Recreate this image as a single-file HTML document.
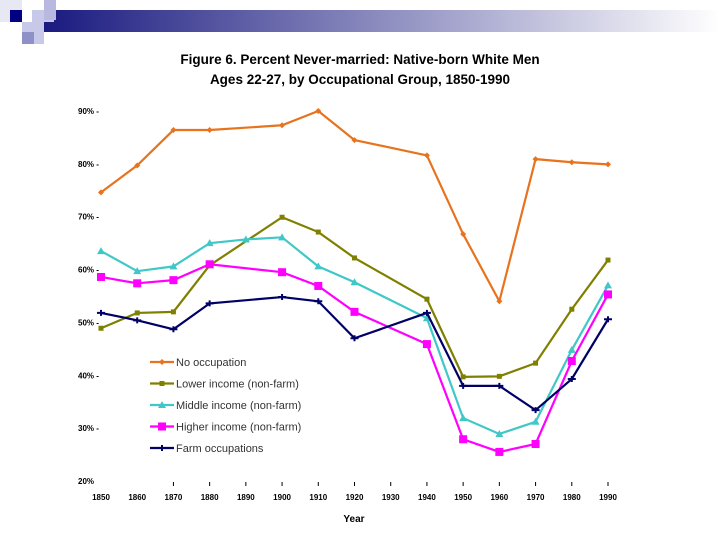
<!DOCTYPE html>
<html><head><meta charset="utf-8"><style>
body{margin:0;background:#fff;width:720px;height:540px;overflow:hidden;font-family:"Liberation Sans",sans-serif}
</style></head><body>
<svg width="720" height="540">
<defs><linearGradient id="bar" x1="0" x2="1"><stop offset="0" stop-color="#1a1a80"/><stop offset="1" stop-color="#ffffff"/></linearGradient></defs>
<g>
<rect x="44" y="10" width="676" height="22" fill="url(#bar)"/>
<rect x="0" y="0" width="22" height="22" fill="#e8e8f4"/>
<rect x="10" y="10" width="12" height="12" fill="#000080"/>
<rect x="32" y="10" width="22" height="12" fill="#c8c8e8"/>
<rect x="44" y="0" width="12" height="20" fill="#b8b8e0"/>
<rect x="22" y="22" width="22" height="22" fill="#c8c8e8"/>
<rect x="22" y="32" width="12" height="12" fill="#9090c8"/>
</g>
<text x="360" y="64" text-anchor="middle" font-size="13.5" font-weight="bold">Figure 6.  Percent Never-married:  Native-born White Men</text>
<text x="360" y="84" text-anchor="middle" font-size="13.5" font-weight="bold">Ages 22-27, by Occupational Group, 1850-1990</text>
<text x="354" y="522" text-anchor="middle" font-size="10" font-weight="bold">Year</text>
<g id="axes"></g><g id="plot"></g><g id="legend"></g>
</svg>
<script>
const years=[1850,1860,1870,1880,1890,1900,1910,1920,1930,1940,1950,1960,1970,1980,1990];
const yTicks=[20,30,40,50,60,70,80,90];
const noOcc=[74.6,79.7,86.4,86.4,null,87.3,90,84.5,null,81.6,66.7,54,80.9,80.3,79.9];
const lowInc=[48.9,51.8,52,60.8,null,69.9,67.1,62.2,null,54.4,39.7,39.8,42.3,52.5,61.8];
const midInc=[63.5,59.7,60.6,65,65.7,66.1,60.6,57.6,null,50.8,31.9,28.9,31.2,44.8,57];
const highInc=[58.6,57.4,58,61,null,59.5,56.9,52,null,45.9,27.9,25.5,27,42.7,55.3];
const farm=[51.8,50.4,48.7,53.6,null,54.8,54,47,null,51.8,38,38,33.4,39.3,50.6];
const seriesNames=["No occupation","Lower income (non-farm)","Middle income (non-farm)","Higher income (non-farm)","Farm occupations"];
const NS="http://www.w3.org/2000/svg";
const X=y=>101+(y-1850)*(608-101)/140;
const Y=v=>481-(v-20)*(481-111)/70;
function mk(t,a,p){const e=document.createElementNS(NS,t);for(const k in a)e.setAttribute(k,a[k]);p.appendChild(e);return e;}
const axes=document.getElementById('axes');
yTicks.forEach(v=>{const t=mk('text',{x:78,y:Y(v)+3,'font-size':8,'font-weight':'bold'},axes);


t.textContent=v+'%'+(v>20?' -':'');});
years.forEach(y=>{const t=mk('text',{x:X(y),y:500,'font-size':8,'font-weight':'bold','text-anchor':'middle'},axes);


t.textContent=y;
if(y>1860){const m=mk('line',{x1:X(y),x2:X(y),y1:482,y2:486,stroke:'#000','stroke-width':1},axes);

}});
const series=[[noOcc,'#e8731e','diamond'],[lowInc,'#808000','square'],[midInc,'#40c8c8','triangle'],[highInc,'#ff00ff','bigsquare'],[farm,'#000066','plus']];
function marker(kind,x,y,c,g){
 if(kind==='diamond')return mk('path',{d:`M${x} ${y-3}L${x+3} ${y}L${x} ${y+3}L${x-3} ${y}Z`,fill:c},g);
 if(kind==='square')return mk('rect',{x:x-2.5,y:y-2.5,width:5,height:5,fill:c},g);
 if(kind==='triangle')return mk('path',{d:`M${x} ${y-4}L${x+4} ${y+3}L${x-4} ${y+3}Z`,fill:c},g);
 if(kind==='bigsquare')return mk('rect',{x:x-4,y:y-4,width:8,height:8,fill:c},g);
 return mk('path',{d:`M${x-4} ${y}H${x+4}M${x} ${y-3}V${y+3}`,stroke:c,'stroke-width':2},g);
}
const plot=document.getElementById('plot');
series.forEach((s,i)=>{const g=mk('g',{},plot);


const pts=[];s[0].forEach((v,j)=>{if(v!==null)pts.push([X(years[j]),Y(v)]);});
const l=mk('polyline',{points:pts.map(p=>p.join(',')).join(' '),fill:'none',stroke:s[1],'stroke-width':2.2},g);


pts.forEach(p=>{const m=marker(s[2],p[0],p[1],s[1],g);

});});
const lg=document.getElementById('legend');
seriesNames.forEach((n,i)=>{const y=362+i*21.5;const g=mk('g',{},lg);


mk('line',{x1:150,x2:174,y1:y,y2:y,stroke:series[i][1],'stroke-width':2.2},g);
marker(series[i][2],162,y,series[i][1],g);
const t=mk('text',{x:176,y:y+4,'font-size':11,fill:'#333'},g);t.textContent=n;});
</script>
</body></html>
